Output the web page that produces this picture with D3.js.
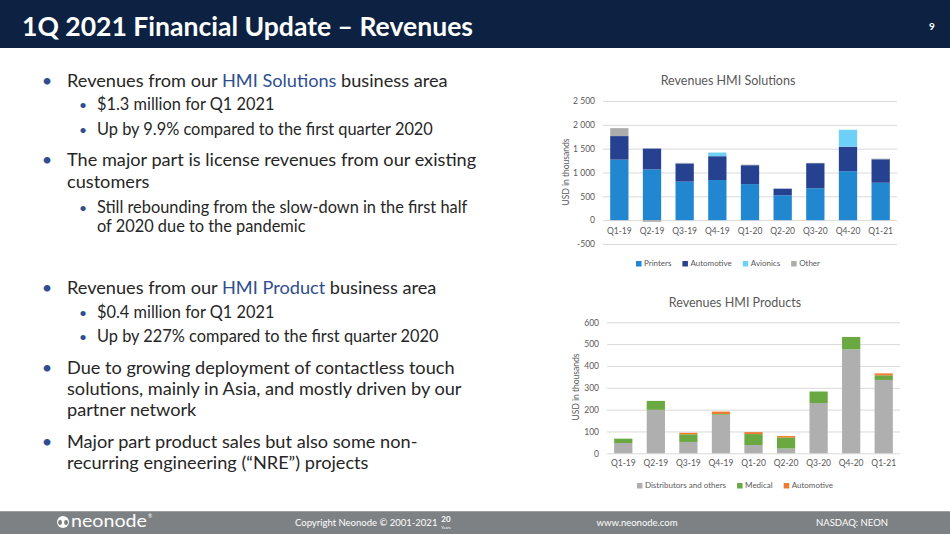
<!DOCTYPE html>
<html>
<head>
<meta charset="utf-8">
<script src="https://cdn.jsdelivr.net/npm/d3@7"></script>
<style>
  html, body { margin: 0; padding: 0; background: #fff; }
  svg { display: block; }
  text { font-family: Lato, "Open Sans", sans-serif; }
  .grid line { stroke: #d9d9d9; stroke-width: 1; }
  .tick text { fill: #595959; }
</style>
</head>
<body>
<div id="slide"></div>
<script>
// ---- data ----
var quarters = ["Q1-19", "Q2-19", "Q3-19", "Q4-19", "Q1-20", "Q2-20", "Q3-20", "Q4-20", "Q1-21"];

// Revenues HMI Solutions (USD thousands)
var solKeys = ["Printers", "Automotive", "Avionics", "Other"];
var solPrinters   = [1270, 1065, 808, 842, 757, 522, 668, 1028, 785];
var solAutomotive = [494, 437, 382, 500, 396, 139, 527, 514, 493];
var solAvionics   = [0, 0, 0, 77, 0, 0, 0, 354, 0];
var solOther      = [167, -35, 12, 0, 12, 0, 8, 0, 12];
var solTicks = [-500, 0, 500, 1000, 1500, 2000, 2500];

// Revenues HMI Products (USD thousands)
var prodKeys = ["Distributors and others", "Medical", "Automotive"];
var prodDistributors = [47, 199, 52, 177, 38, 22, 230, 476, 336];
var prodMedical      = [20, 41, 35, 3, 50, 50, 53, 57, 21];
var prodAutomotive   = [0, 0, 7, 11, 9, 7, 0, 0, 9];
var prodTicks = [0, 100, 200, 300, 400, 500, 600];

var solColors = ["#2187d0", "#25418f", "#6fd0f7", "#adadad"];
var prodColors = ["#afafaf", "#6aa842", "#ec7c30"];

var cfg = { width: 950, height: 534 };

var svg = d3.select("#slide").append("svg")
    .attr("width", cfg.width)
    .attr("height", cfg.height);

// fit a font size so a sample line gets a target width
function fitSize(sample, target, base, weight) {
    var t = svg.append("text").attr("font-size", base).attr("font-weight", weight || "normal").text(sample);
    var w = t.node().getComputedTextLength();
    t.remove();
    return base * target / w;
}

// ---- header ----
svg.append("rect").attr("x", 0).attr("y", 0).attr("width", cfg.width).attr("height", 48).attr("fill", "#0d2242");
var titleText = "1Q 2021 Financial Update \u2013 Revenues";
svg.append("text")
    .attr("x", 22).attr("y", 36)
    .attr("fill", "#fff")
    .attr("font-weight", "bold")
    .attr("font-size", 27)
    .attr("textLength", 451)
    .attr("lengthAdjust", "spacingAndGlyphs")
    .text(titleText);
svg.append("text")
    .attr("x", 932).attr("y", 30)
    .attr("fill", "#fff").attr("font-weight", "bold").attr("font-size", 10)
    .attr("text-anchor", "middle")
    .text("9");

// ---- bullet text ----
var blue = "#2f4e8f";
var bullets = [
    {lvl: 1, y: 87, parts: [["Revenues from our "], ["HMI Solutions", blue], [" business area"]]},
    {lvl: 2, y: 110, parts: [["$1.3 million for Q1 2021"]]},
    {lvl: 2, y: 135, parts: [["Up by 9.9% compared to the first quarter 2020"]]},
    {lvl: 1, y: 166, parts: [["The major part is license revenues from our existing"]]},
    {lvl: 0, y: 188, parts: [["customers"]]},
    {lvl: 2, y: 213, parts: [["Still rebounding from the slow-down in the first half"]]},
    {lvl: 3, y: 232, parts: [["of 2020 due to the pandemic"]]},
    {lvl: 1, y: 294, parts: [["Revenues from our "], ["HMI Product", blue], [" business area"]]},
    {lvl: 2, y: 318, parts: [["$0.4 million for Q1 2021"]]},
    {lvl: 2, y: 342, parts: [["Up by 227% compared to the first quarter 2020"]]},
    {lvl: 1, y: 374, parts: [["Due to growing deployment of contactless touch"]]},
    {lvl: 0, y: 395, parts: [["solutions, mainly in Asia, and mostly driven by our"]]},
    {lvl: 0, y: 416, parts: [["partner network"]]},
    {lvl: 1, y: 448, parts: [["Major part product sales but also some non-"]]},
    {lvl: 0, y: 469, parts: [["recurring engineering (\u201cNRE\u201d) projects"]]}
];
var mainSize = fitSize("Revenues from our HMI Solutions business area", 381, 18);
var subSize = fitSize("Up by 9.9% compared to the first quarter 2020", 336, 16);

var lines = svg.append("g").attr("class", "bullets")
    .selectAll("g").data(bullets).enter().append("g");

lines.filter(function(d) { return d.lvl == 1 || d.lvl == 2; })
    .append("text")
    .attr("x", function(d) { return d.lvl == 1 ? 47 : 83; })
    .attr("y", function(d) { return d.y; })
    .attr("text-anchor", "middle")
    .attr("fill", blue)
    .attr("font-size", function(d) { return d.lvl == 1 ? mainSize : subSize * 0.85; })
    .text("\u2022");

lines.append("text")
    .attr("x", function(d) { return (d.lvl == 2 || d.lvl == 3) ? 97 : 67; })
    .attr("y", function(d) { return d.y; })
    .attr("fill", "#262626")
    .attr("font-size", function(d) { return (d.lvl == 2 || d.lvl == 3) ? subSize : mainSize; })
    .selectAll("tspan")
    .data(function(d) { return d.parts; })
    .enter().append("tspan")
    .attr("fill", function(p) { return p[1] || "#262626"; })
    .text(function(p) { return p[0]; });

// ---- stacked bar chart helper ----
var spaceFormat = d3.formatLocale({decimal: ".", thousands: "\u00a0", grouping: [3], currency: ["", ""]}).format(",");

function drawChart(opt) {
    var g = svg.append("g").attr("class", "chart");

    var rows = quarters.map(function(q, i) {
        var r = {quarter: q};
        opt.keys.forEach(function(k, j) { r[k] = opt.series[j][i]; });
        return r;
    });

    var x = d3.scaleBand().domain(quarters)
        .range([opt.left, opt.right])
        .paddingInner(0.44).paddingOuter(0.22);
    var y = d3.scaleLinear().domain(opt.domain).range([opt.bottom, opt.top]);

    g.append("text")
        .attr("x", opt.titleX).attr("y", opt.titleY)
        .attr("text-anchor", "middle")
        .attr("fill", "#595959").attr("font-size", 12.5)
        .text(opt.title);

    var yAxis = d3.axisLeft(y)
        .tickValues(opt.ticks)
        .tickSizeInner(-(opt.right - opt.left))
        .tickSizeOuter(0)
        .tickPadding(opt.tickPad)
        .tickFormat(function(d) { return spaceFormat(d).replace("\u2212", "-"); });

    g.append("g")
        .attr("class", "grid")
        .attr("transform", "translate(" + opt.left + ",0)")
        .call(yAxis)
        .call(function(s) { s.select(".domain").remove(); })
        .selectAll("text").attr("font-size", 8.5);

    g.append("text")
        .attr("transform", "translate(" + opt.axisTitleX + "," + opt.axisTitleY + ") rotate(-90)")
        .attr("text-anchor", "middle")
        .attr("fill", "#595959").attr("font-size", 8.5)
        .text("USD in thousands");

    var stacked = d3.stack().keys(opt.keys).offset(d3.stackOffsetDiverging)(rows);

    g.append("g").selectAll("g")
        .data(stacked).enter().append("g")
        .attr("fill", function(d, i) { return opt.colors[i]; })
        .selectAll("rect")
        .data(function(d) { return d; })
        .enter().append("rect")
        .attr("x", function(d) { return x(d.data.quarter); })
        .attr("width", x.bandwidth())
        .attr("y", function(d) { return y(Math.max(d[0], d[1])); })
        .attr("height", function(d) { return Math.abs(y(d[0]) - y(d[1])); });

    var xAxis = d3.axisBottom(x).tickSize(0).tickPadding(opt.xPad);
    g.append("g")
        .attr("transform", "translate(0," + y(0) + ")")
        .call(xAxis)
        .call(function(s) { s.select(".domain").remove(); })
        .selectAll("text").attr("font-size", 8.5).attr("fill", "#595959");

    // legend, centred under the chart
    var legend = g.append("g").attr("class", "legend");
    var items = legend.selectAll("g").data(opt.keys).enter().append("g");
    items.append("rect")
        .attr("width", 5.5).attr("height", 5.5)
        .attr("y", -5)
        .attr("fill", function(d, i) { return opt.colors[i]; });
    items.append("text")
        .attr("x", 8).attr("y", 0)
        .attr("fill", "#595959").attr("font-size", 8)
        .text(function(d) { return d; });
    var pos = 0;
    items.each(function() {
        var w = d3.select(this).select("text").node().getComputedTextLength() + 8;
        d3.select(this).attr("transform", "translate(" + pos + ",0)");
        pos += w + opt.legendGap;
    });
    pos -= opt.legendGap;
    legend.attr("transform", "translate(" + (opt.titleX - pos / 2) + "," + opt.legendY + ")");
}

drawChart({
    title: "Revenues HMI Solutions",
    keys: solKeys,
    series: [solPrinters, solAutomotive, solAvionics, solOther],
    colors: solColors,
    domain: [-500, 2500],
    ticks: solTicks,
    left: 603, right: 897, top: 101, bottom: 244,
    tickPad: 8, xPad: 8,
    titleX: 728, titleY: 85,
    axisTitleX: 569, axisTitleY: 172,
    legendY: 266, legendGap: 11
});

drawChart({
    title: "Revenues HMI Products",
    keys: prodKeys,
    series: [prodDistributors, prodMedical, prodAutomotive],
    colors: prodColors,
    domain: [0, 600],
    ticks: prodTicks,
    left: 607, right: 900, top: 322.3, bottom: 453.3,
    tickPad: 8, xPad: 7,
    titleX: 735, titleY: 307,
    axisTitleX: 579, axisTitleY: 387,
    legendY: 488, legendGap: 11
});

// ---- footer ----
var foot = svg.append("g").attr("class", "footer");
foot.append("rect").attr("x", 0).attr("y", 511).attr("width", cfg.width).attr("height", 23).attr("fill", "#7d8183");
foot.append("rect").attr("x", 0).attr("y", 511).attr("width", cfg.width).attr("height", 1).attr("fill", "#9da0a2");
foot.append("circle").attr("cx", 63).attr("cy", 522).attr("r", 6).attr("fill", "#fff");
foot.append("path").attr("d", "M60,520 a2,2.5 0 1,0 0.1,0 M66,520 a2,2.5 0 1,0 0.1,0").attr("fill", "#7d8183");
foot.append("text").attr("x", 71).attr("y", 527).attr("fill", "#fff").attr("font-size", 17)
    .attr("textLength", 76).attr("lengthAdjust", "spacingAndGlyphs").text("neonode");
foot.append("text").attr("x", 148).attr("y", 518).attr("fill", "#fff").attr("font-size", 5).text("\u00ae");
foot.append("text").attr("x", 295).attr("y", 526).attr("fill", "#fff").attr("font-size", 9.5).text("Copyright Neonode \u00a9 2001-2021");
foot.append("text").attr("x", 446).attr("y", 522).attr("fill", "#fff").attr("font-size", 8).attr("font-weight", "bold").attr("text-anchor", "middle").text("20");
foot.append("text").attr("x", 446).attr("y", 529).attr("fill", "#fff").attr("font-size", 4).attr("text-anchor", "middle").text("Years");
foot.append("text").attr("x", 637).attr("y", 526).attr("fill", "#fff").attr("font-size", 9.5).attr("text-anchor", "middle").text("www.neonode.com");
foot.append("text").attr("x", 888).attr("y", 526).attr("fill", "#fff").attr("font-size", 9.5).attr("text-anchor", "end").text("NASDAQ: NEON");
</script>
</body>
</html>
